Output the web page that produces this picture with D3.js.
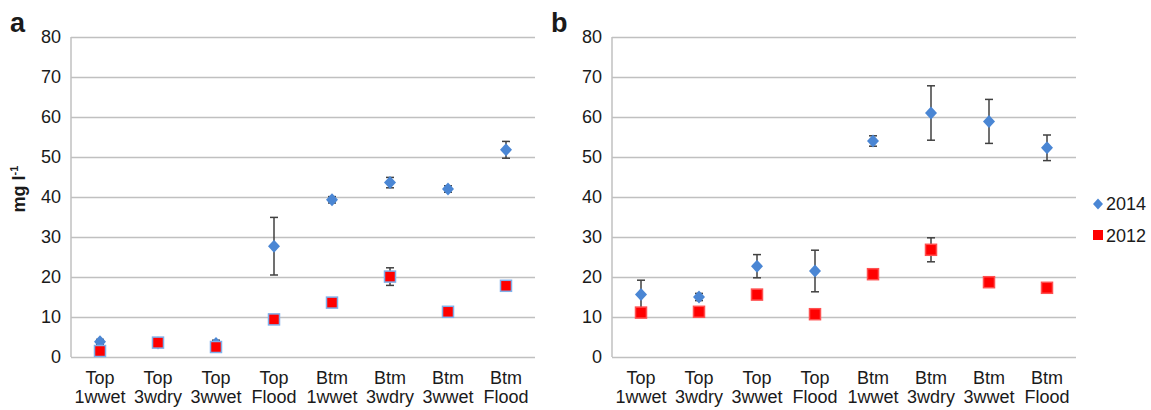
<!DOCTYPE html>
<html>
<head>
<meta charset="utf-8">
<script src="https://cdn.jsdelivr.net/npm/d3@7"></script>
<style>
  body { margin: 0; background: #fff; }
  svg text { font-family: "Liberation Sans", Arial, sans-serif; fill: #1a1a1a; }
</style>
</head>
<body>
<div id="chart"></div>
<script>
// Categories (two-line labels)
var catTop = ["Top", "Top", "Top", "Top", "Btm", "Btm", "Btm", "Btm"];
var catBottom = ["1wwet", "3wdry", "3wwet", "Flood", "1wwet", "3wdry", "3wwet", "Flood"];
var yTicks = [0, 10, 20, 30, 40, 50, 60, 70, 80];

// Panel a values
var a2014 = [3.8, 3.5, 3.4, 27.7, 39.3, 43.6, 42.0, 51.8];
var a2014Err = [0.6, 0.8, 0.8, 7.2, 0.8, 1.3, 0.8, 2.1];
var a2012 = [1.5, 3.6, 2.5, 9.4, 13.6, 20.1, 11.3, 17.8];
var a2012Err = [0, 0, 0, 0, 0, 2.2, 0, 0];

// Panel b values
var b2014 = [15.6, 15.0, 22.7, 21.5, 54.0, 61.0, 58.9, 52.3];
var b2014Err = [3.6, 0.9, 2.9, 5.2, 1.3, 6.8, 5.5, 3.2];
var b2012 = [11.1, 11.3, 15.6, 10.7, 20.7, 26.8, 18.7, 17.3];
var b2012Err = [0, 1.2, 0, 0, 0, 3.0, 0, 0];

var blue = "#4a86d4", red = "#ff0000";

var svg = d3.select("#chart").append("svg")
    .attr("width", 1151)
    .attr("height", 410);

var height = 320; // plot height, top at 37
var y = d3.scaleLinear().domain([0, 80]).range([height, 0]);

function drawPanel(left, width, letter, s14, e14, s12, e12, squareStroke) {
  var g = svg.append("g")
      .attr("transform", "translate(" + left + ",37)");

  var x = d3.scaleBand()
      .domain(d3.range(catTop.length))
      .range([0, width])
      .padding(0);

  // Gridlines + y axis labels
  var yAxis = g.append("g")
      .call(d3.axisLeft(y).tickValues(yTicks).tickSize(-width).tickPadding(10));
  yAxis.select(".domain").remove();
  yAxis.selectAll(".tick line").attr("stroke", "#c0c0c0").attr("stroke-width", 1.5);
  yAxis.selectAll(".tick text").style("font-size", "18px").attr("fill", "#1a1a1a");

  // left axis line
  g.append("line")
      .attr("x1", 0).attr("x2", 0)
      .attr("y1", 0).attr("y2", height)
      .attr("stroke", "#c0c0c0").attr("stroke-width", 1.5);

  // x labels
  var xl = g.selectAll(".xlab")
      .data(catTop)
    .enter().append("text")
      .attr("class", "xlab")
      .attr("text-anchor", "middle")
      .style("font-size", "18px")
      .attr("transform", function(d, i) { return "translate(" + (x(i) + x.bandwidth() / 2) + "," + (height + 27) + ")"; });
  xl.append("tspan").attr("x", 0).attr("y", 0).text(function(d) { return d; });
  xl.append("tspan").attr("x", 0).attr("y", 19).text(function(d, i) { return catBottom[i]; });

  // panel letter
  svg.append("text")
      .attr("x", left - 61)
      .attr("y", 32)
      .style("font-size", "27px")
      .style("font-weight", "bold")
      .text(letter);

  function errorBars(vals, errs) {
    var eb = g.append("g").attr("stroke", "#404040").attr("stroke-width", 1.5);
    vals.forEach(function(v, i) {
      if (!errs[i]) return;
      var cx = x(i) + x.bandwidth() / 2;
      eb.append("line").attr("x1", cx).attr("x2", cx).attr("y1", y(v + errs[i])).attr("y2", y(v - errs[i]));
      eb.append("line").attr("x1", cx - 4).attr("x2", cx + 4).attr("y1", y(v + errs[i])).attr("y2", y(v + errs[i]));
      eb.append("line").attr("x1", cx - 4).attr("x2", cx + 4).attr("y1", y(v - errs[i])).attr("y2", y(v - errs[i]));
    });
  }

  errorBars(s14, e14);
  errorBars(s12, e12);

  // 2014 diamonds
  g.selectAll(".d14")
      .data(s14)
    .enter().append("path")
      .attr("class", "d14")
      .attr("d", "M0,-6.5L6,0L0,6.5L-6,0Z")
      .attr("fill", blue)
      .attr("transform", function(d, i) { return "translate(" + (x(i) + x.bandwidth() / 2) + "," + y(d) + ")"; });

  // 2012 squares
  g.selectAll(".s12")
      .data(s12)
    .enter().append("rect")
      .attr("class", "s12")
      .attr("x", function(d, i) { return x(i) + x.bandwidth() / 2 - 5.5; })
      .attr("y", function(d) { return y(d) - 5.5; })
      .attr("width", 11)
      .attr("height", 11)
      .attr("fill", red)
      .attr("stroke", squareStroke)
      .attr("stroke-width", 1.5);
}

drawPanel(71, 464, "a", a2014, a2014Err, a2012, a2012Err, "#7fb0ea");
drawPanel(612, 464, "b", b2014, b2014Err, b2012, b2012Err, "#ff5050");

// y axis title
svg.append("text")
    .attr("transform", "translate(25,189) rotate(-90)")
    .attr("text-anchor", "middle")
    .style("font-size", "18px")
    .style("font-weight", "bold")
    .html('mg l<tspan dy="-7" font-size="11px">-1</tspan>');

// legend
var legend = svg.append("g").attr("transform", "translate(1098,0)");
legend.append("path")
    .attr("d", "M0,-5.5L5,0L0,5.5L-5,0Z")
    .attr("fill", blue)
    .attr("transform", "translate(0,204)");
legend.append("text").attr("x", 8).attr("y", 210).style("font-size", "18px").text("2014");
legend.append("rect")
    .attr("x", -5).attr("y", 230).attr("width", 10).attr("height", 10)
    .attr("fill", red);
legend.append("text").attr("x", 8).attr("y", 242).style("font-size", "18px").text("2012");
</script>
</body>
</html>
